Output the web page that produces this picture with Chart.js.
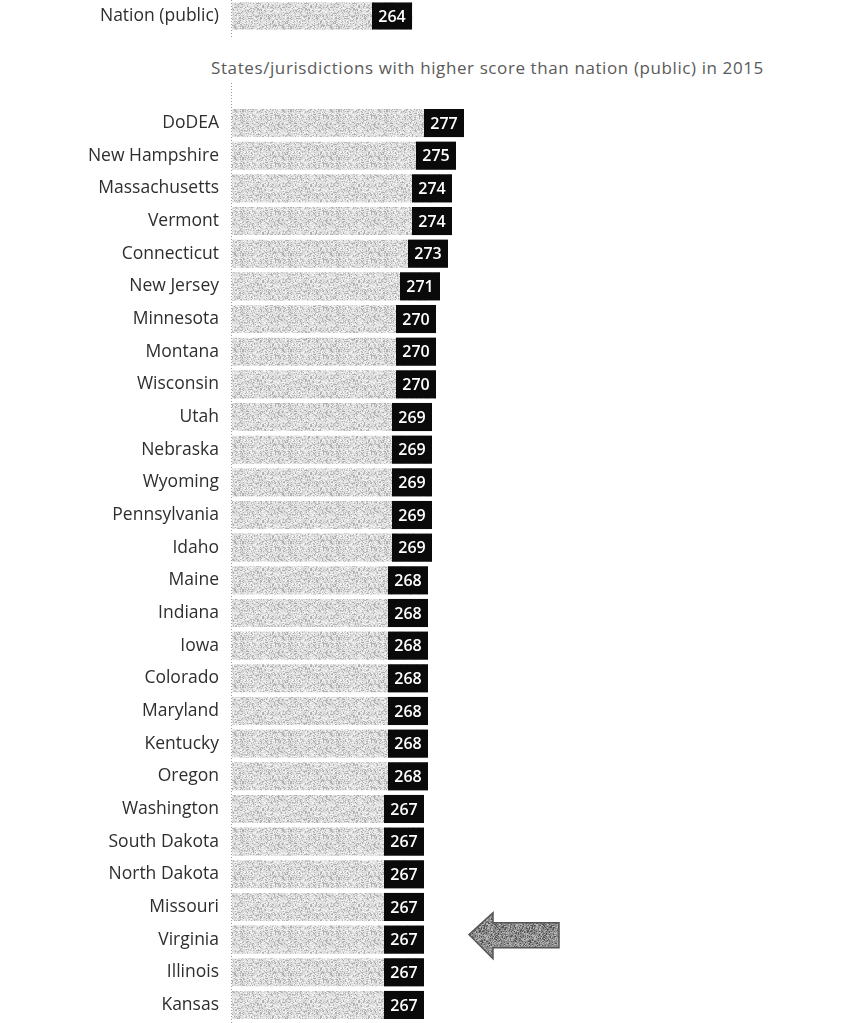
<!DOCTYPE html>
<html>
<head>
<meta charset="utf-8">
<script src="https://cdn.jsdelivr.net/npm/chart.js@4.4.1/dist/chart.umd.min.js"></script>
<style>
  html, body { margin: 0; padding: 0; background: #ffffff; }
  body { width: 846px; height: 1023px; position: relative; overflow: hidden; font-family: "Open Sans", sans-serif; }
  #wrapA { position: absolute; left: 0; top: 0; width: 846px; height: 40px; }
  #wrapB { position: absolute; left: 0; top: 83px; width: 846px; height: 940px; }
  #subtitle { position: absolute; left: 211px; top: 56px; font-size: 17px; color: #5a5a5a; white-space: nowrap; letter-spacing: 0.6px; }
</style>
</head>
<body>
<div id="wrapA"><canvas id="chartA" width="846" height="40"></canvas></div>
<div id="subtitle">States/jurisdictions with higher score than nation (public) in 2015</div>
<div id="wrapB"><canvas id="chartB" width="846" height="940"></canvas></div>
<script>
// ---- Data ----
const nationCategories = ['Nation (public)'];
const nationScores = [264];

const stateCategories = [
  'DoDEA', 'New Hampshire', 'Massachusetts', 'Vermont', 'Connecticut', 'New Jersey',
  'Minnesota', 'Montana', 'Wisconsin', 'Utah', 'Nebraska', 'Wyoming', 'Pennsylvania',
  'Idaho', 'Maine', 'Indiana', 'Iowa', 'Colorado', 'Maryland', 'Kentucky', 'Oregon',
  'Washington', 'South Dakota', 'North Dakota', 'Missouri', 'Virginia', 'Illinois', 'Kansas'
];
const stateScores = [
  277, 275, 274, 274, 273, 271,
  270, 270, 270, 269, 269, 269, 269,
  269, 268, 268, 268, 268, 268, 268, 268,
  267, 267, 267, 267, 267, 267, 267
];
const highlightedState = 'Virginia';
const axisMin = 219;
const axisMax = 369;

// ---- Styles ----
function makeSpeckle(base, dark, light, seed) {
  const c = document.createElement('canvas');
  c.width = 48; c.height = 48;
  const g = c.getContext('2d');
  g.fillStyle = base; g.fillRect(0, 0, 48, 48);
  let s = seed;
  const rnd = () => { s = (s * 1103515245 + 12345) & 0x7fffffff; return s / 0x7fffffff; };
  for (let y = 0; y < 48; y++) {
    for (let x = 0; x < 48; x++) {
      const r = rnd();
      if (r < 0.2) { g.fillStyle = dark; g.fillRect(x, y, 1, 1); }
      else if (r < 0.45) { g.fillStyle = light; g.fillRect(x, y, 1, 1); }
    }
  }
  return g.createPattern(c, 'repeat');
}
const barPattern = makeSpeckle('#dadada', '#b0b0b0', '#f3f3f3', 12345);
const arrowPattern = makeSpeckle('#8a8a8a', '#555555', '#b5b5b5', 777);

const valueBoxPlugin = {
  id: 'valueBox',
  afterDatasetsDraw(chart) {
    const ctx = chart.ctx;
    const meta = chart.getDatasetMeta(0);
    const data = chart.data.datasets[0].data;
    ctx.save();
    meta.data.forEach((bar, i) => {
      const h = bar.height;
      const w = 40;
      ctx.fillStyle = '#0a0a0a';
      ctx.fillRect(bar.x - w, bar.y - h / 2, w, h);
      ctx.fillStyle = '#ffffff';
      ctx.font = '600 16px "Open Sans"';
      ctx.textAlign = 'center';
      ctx.textBaseline = 'middle';
      ctx.fillText(String(data[i]), bar.x - w / 2, bar.y + 1);
    });
    ctx.restore();
  }
};

const dottedAxisPlugin = {
  id: 'dottedAxis',
  beforeDatasetsDraw(chart, args, opts) {
    const ctx = chart.ctx;
    const x = chart.chartArea.left - 0.5;
    ctx.save();
    ctx.strokeStyle = '#9a9a9a';
    ctx.lineWidth = 1;
    ctx.setLineDash([1, 2]);
    ctx.beginPath();
    ctx.moveTo(x, opts.top || 0);
    ctx.lineTo(x, opts.bottom || chart.height);
    ctx.stroke();
    ctx.restore();
  }
};

const arrowPlugin = {
  id: 'arrow',
  afterDatasetsDraw(chart) {
    const idx = chart.data.labels.indexOf(highlightedState);
    if (idx < 0) return;
    const bar = chart.getDatasetMeta(0).data[idx];
    const tipX = bar.x + 45;
    const cy = bar.y - 5;
    const ctx = chart.ctx;
    ctx.save();
    ctx.beginPath();
    ctx.moveTo(tipX, cy);
    ctx.lineTo(tipX + 24, cy - 22);
    ctx.lineTo(tipX + 24, cy - 12);
    ctx.lineTo(tipX + 90, cy - 12);
    ctx.lineTo(tipX + 90, cy + 13);
    ctx.lineTo(tipX + 24, cy + 13);
    ctx.lineTo(tipX + 24, cy + 24);
    ctx.closePath();
    ctx.fillStyle = arrowPattern;
    ctx.fill();
    ctx.strokeStyle = '#555';
    ctx.lineWidth = 1.5;
    ctx.stroke();
    ctx.restore();
  }
};

function makeOptions(padTop, padBottom, dotted) {
  return {
    responsive: false,
    animation: false,
    indexAxis: 'y',
    devicePixelRatio: 1,
    layout: { padding: { left: 0, right: 14, top: padTop, bottom: padBottom } },
    plugins: {
      legend: { display: false },
      tooltip: { enabled: false },
      dottedAxis: dotted
    },
    scales: {
      x: { display: false, min: axisMin, max: axisMax },
      y: {
        afterFit(axis) {
          axis.width = 232;
          axis.paddingTop = 0;
          axis.paddingBottom = 0;
        },
        border: { display: false },
        grid: { display: false, drawTicks: false },
        ticks: {
          padding: 13,
          color: '#2e2e2e',
          font: { family: '"Open Sans"', size: 17.5 },
          autoSkip: false
        }
      }
    }
  };
}

new Chart(document.getElementById('chartA'), {
  type: 'bar',
  data: {
    labels: nationCategories,
    datasets: [{ data: nationScores, backgroundColor: barPattern, barThickness: 27, borderWidth: 0 }]
  },
  options: makeOptions(0, 8, { top: 0, bottom: 38 }),
  plugins: [dottedAxisPlugin, valueBoxPlugin]
});

new Chart(document.getElementById('chartB'), {
  type: 'bar',
  data: {
    labels: stateCategories,
    datasets: [{ data: stateScores, backgroundColor: barPattern, categoryPercentage: 1, barPercentage: 0.86, borderWidth: 0 }]
  },
  options: makeOptions(23.7, 1.7, { top: 0 }),
  plugins: [dottedAxisPlugin, valueBoxPlugin, arrowPlugin]
});
</script>
</body>
</html>
